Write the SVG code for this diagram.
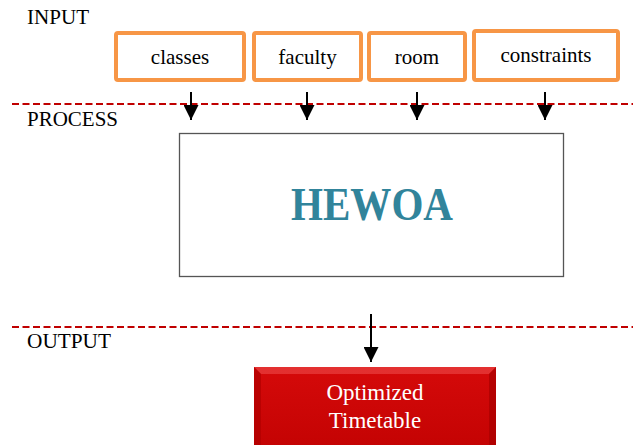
<svg xmlns="http://www.w3.org/2000/svg" width="633" height="445" viewBox="0 0 633 445">
<style>
.in{fill:#fff;stroke:#F79646;stroke-width:4}
.dash{stroke:#C00000;stroke-width:2;stroke-dasharray:7 3.5;fill:none}
.conn{stroke:#000;stroke-width:2;fill:none}
</style>
<defs>
<marker id="ah" markerWidth="15" markerHeight="15" viewBox="0 0 15 15" refX="15" refY="7.5" orient="auto" markerUnits="userSpaceOnUse">
<path d="M0,0 L15,7.5 L0,15 Z" fill="#000"/>
</marker>
<linearGradient id="rg" x1="0" y1="0" x2="0" y2="1">
<stop offset="0" stop-color="#D50A0A"/>
<stop offset="1" stop-color="#C40303"/>
</linearGradient>
</defs>
<rect width="633" height="445" fill="#fff"/>
<g font-family="Liberation Serif, serif" font-size="20" fill="#000">
<text x="27" y="24" textLength="62" lengthAdjust="spacingAndGlyphs">INPUT</text>
<text x="27" y="126" textLength="91" lengthAdjust="spacingAndGlyphs">PROCESS</text>
<text x="27" y="348" textLength="84" lengthAdjust="spacingAndGlyphs">OUTPUT</text>
</g>
<g id="dividers">
<line class="dash" x1="12" y1="104" x2="633" y2="104"/>
<line class="dash" x1="12" y1="327" x2="633" y2="327"/>
</g>
<g font-family="Liberation Serif, serif" font-size="21" fill="#000" text-anchor="middle">
<g id="classes"><rect class="in" x="116" y="33" width="128" height="47" rx="2"/><text x="180" y="64">classes</text></g>
<g id="faculty"><rect class="in" x="254" y="33" width="107" height="47" rx="2"/><text x="307.5" y="64">faculty</text></g>
<g id="room"><rect class="in" x="369" y="33" width="96" height="47" rx="2"/><text x="417" y="64">room</text></g>
<g id="constraints"><rect class="in" x="474" y="31" width="144" height="49" rx="2"/><text x="546" y="62">constraints</text></g>
</g>
<g id="hewoa">
<rect x="179.5" y="133.5" width="384" height="143" fill="#fff" stroke="#555" stroke-width="1.3"/>
<text x="372" y="220" text-anchor="middle" font-family="Liberation Serif, serif" font-weight="bold" font-size="46" fill="#31849B" textLength="162" lengthAdjust="spacingAndGlyphs">HEWOA</text>
</g>
<g id="output">
<rect x="254" y="367" width="242" height="80" fill="url(#rg)"/>
<polygon points="254,367 496,367 489,374 261,374" fill="#E63A3A" opacity="0.8"/>
<polygon points="254,367 261,374 261,445 254,445" fill="#B00000" opacity="0.7"/>
<polygon points="496,367 489,374 489,445 496,445" fill="#A80000" opacity="0.7"/>
<text x="375" y="400" text-anchor="middle" font-family="Liberation Serif, serif" font-size="23" fill="#fff">Optimized</text>
<text x="375" y="428" text-anchor="middle" font-family="Liberation Serif, serif" font-size="23" fill="#fff">Timetable</text>
</g>
<g id="connectors">
<line class="conn" x1="191" y1="92" x2="191" y2="120" marker-end="url(#ah)"/>
<line class="conn" x1="307" y1="92" x2="307" y2="120" marker-end="url(#ah)"/>
<line class="conn" x1="417" y1="92" x2="417" y2="120" marker-end="url(#ah)"/>
<line class="conn" x1="545" y1="92" x2="545" y2="120" marker-end="url(#ah)"/>
<line class="conn" x1="371" y1="314" x2="371" y2="362" marker-end="url(#ah)"/>
</g>
</svg>
